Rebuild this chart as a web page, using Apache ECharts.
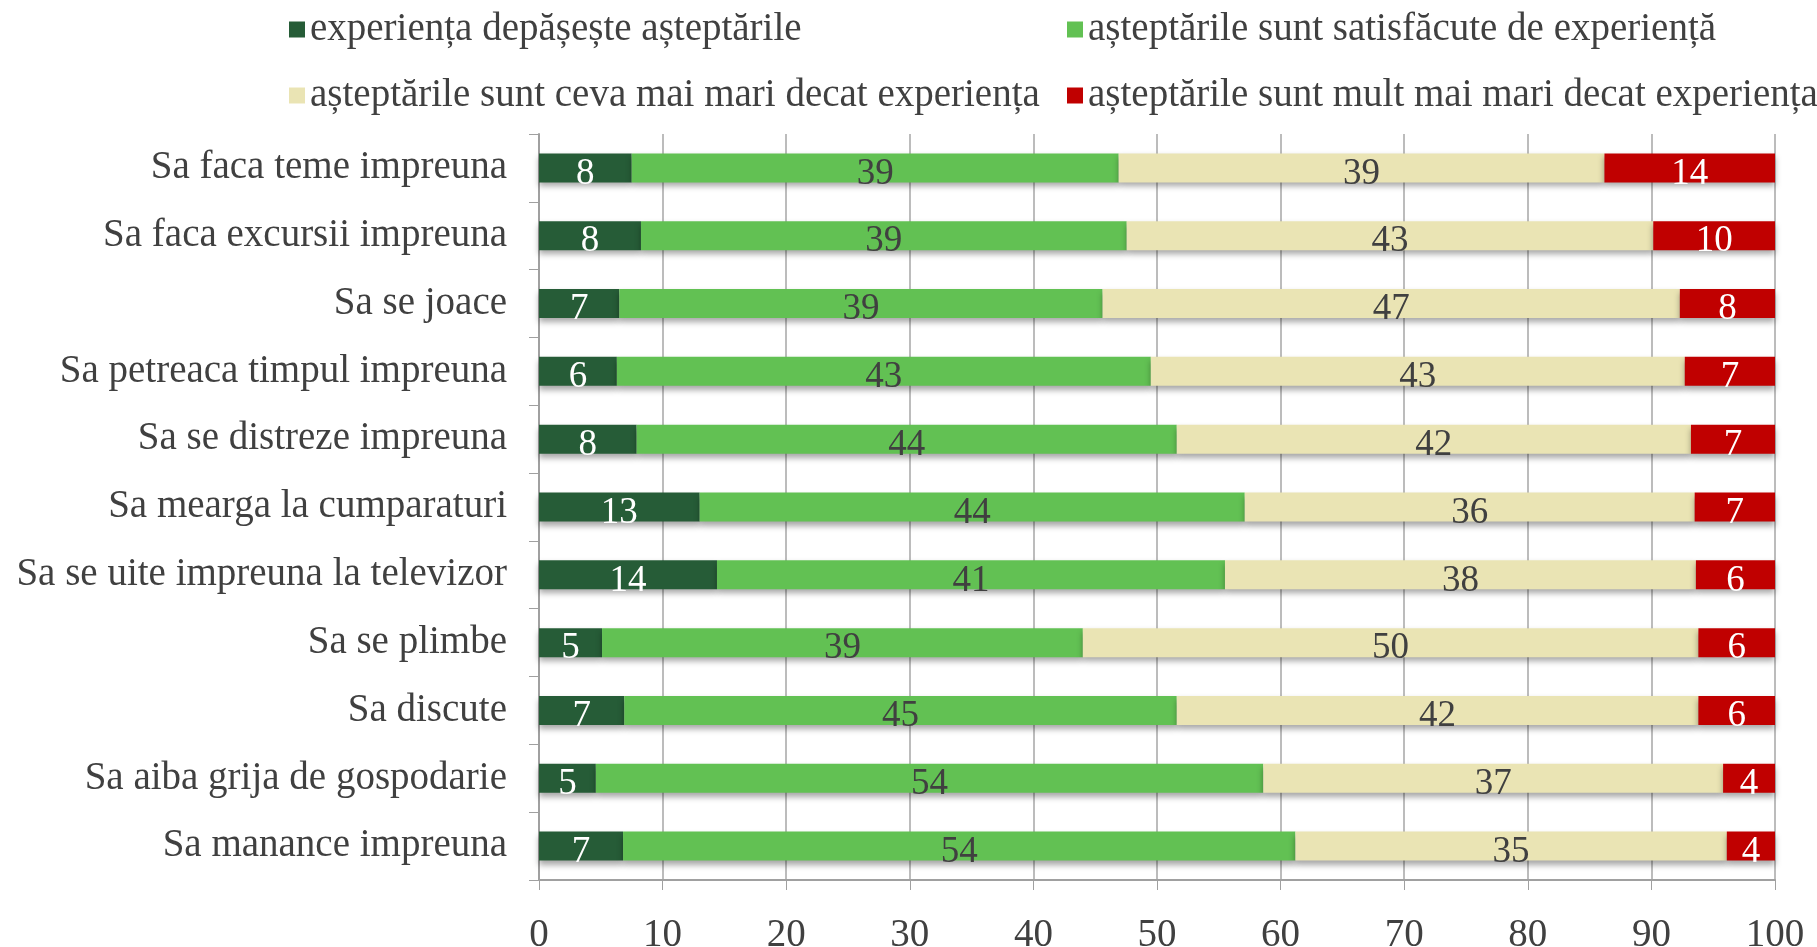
<!DOCTYPE html>
<html>
<head>
<meta charset="utf-8">
<script src="https://cdn.jsdelivr.net/npm/echarts@6/dist/echarts.min.js"></script>
<style>
  html, body { margin: 0; padding: 0; background: #fff; }
  #main { width: 1817px; height: 947px; }
</style>
</head>
<body>
<div id="main"></div>
<script>
// categorii (de sus in jos)
var categorii = [
    'Sa faca teme impreuna',
    'Sa faca excursii impreuna',
    'Sa se joace',
    'Sa petreaca timpul impreuna',
    'Sa se distreze impreuna',
    'Sa mearga la cumparaturi',
    'Sa se uite impreuna la televizor',
    'Sa se plimbe',
    'Sa discute',
    'Sa aiba grija de gospodarie',
    'Sa manance impreuna'
];
var numeSerii = [
    'experiența depășește așteptările',
    'așteptările sunt satisfăcute de experiență',
    'așteptările sunt ceva mai mari decat experiența',
    'așteptările sunt mult mai mari decat experiența'
];
var depaseste   = [7.5, 8.25, 6.5, 6.3, 7.9, 13.0, 14.4, 5.1, 6.9, 4.6, 6.8];
var satisfacute = [39.4, 39.3, 39.1, 43.2, 43.7, 44.1, 41.1, 38.9, 44.7, 54.0, 54.4];
var cevaMaiMari = [39.3, 42.6, 46.7, 43.2, 41.6, 36.4, 38.1, 49.8, 42.2, 37.2, 34.9];
var multMaiMari = [13.8, 9.85, 7.7, 7.3, 6.8, 6.5, 6.4, 6.2, 6.2, 4.2, 3.9];
var xTicks = [0, 10, 20, 30, 40, 50, 60, 70, 80, 90, 100];

var culori = ['#265C37', '#62C153', '#EAE4B4', '#C00000'];
var culoriEticheta = ['#ffffff', '#404040', '#404040', '#ffffff'];
var font = '"Liberation Serif", "Times New Roman", serif';

var myChart = echarts.init(document.getElementById('main'));

function serie(i, data) {
    return {
        name: numeSerii[i],
        type: 'bar',
        stack: 'total',
        barWidth: 29,
        data: data,
        itemStyle: {
            color: culori[i],
            shadowColor: 'rgba(0,0,0,0.35)',
            shadowBlur: 6,
            shadowOffsetY: 4
        },
        label: {
            show: true,
            position: 'inside',
            offset: [0, 6],
            color: culoriEticheta[i],
            fontFamily: font,
            fontSize: 37,
            formatter: function (p) { return Math.round(p.value); }
        }
    };
}

function legenda(i, left, top) {
    return {
        data: [numeSerii[i]],
        left: left,
        top: top,
        itemWidth: 16,
        itemHeight: 16,
        icon: 'rect',
        textStyle: { fontFamily: font, fontSize: 39, color: '#404040' }
    };
}

var option = {
    animation: false,
    legend: [
        legenda(0, 284, 5),
        legenda(1, 1062, 5),
        legenda(2, 284, 71),
        legenda(3, 1062, 71)
    ],
    grid: { left: 539, right: 42, top: 134, bottom: 67, outerBoundsMode: 'none' },
    xAxis: {
        type: 'value',
        min: 0,
        max: 100,
        interval: 10,
        axisLine: { show: true, lineStyle: { color: '#a0a0a0', width: 2 } },
        axisTick: { show: true, length: 10, lineStyle: { color: '#a0a0a0' } },
        splitLine: { show: true, lineStyle: { color: '#a6a6a6', width: 1.5 } },
        axisLabel: {
            fontFamily: font, fontSize: 39, color: '#404040', margin: 36,
            formatter: function (v) { return xTicks.indexOf(v) >= 0 ? String(v) : ''; }
        }
    },
    yAxis: {
        type: 'category',
        inverse: true,
        data: categorii,
        axisLine: { show: true, lineStyle: { color: '#a0a0a0', width: 2 } },
        axisTick: { show: true, length: 10, lineStyle: { color: '#a0a0a0' } },
        axisLabel: {
            fontFamily: font, fontSize: 39, color: '#404040', margin: 32,
            padding: [7, 0, 0, 0]
        }
    },
    series: [
        serie(0, depaseste),
        serie(1, satisfacute),
        serie(2, cevaMaiMari),
        serie(3, multMaiMari)
    ]
};

myChart.setOption(option);
</script>
</body>
</html>
